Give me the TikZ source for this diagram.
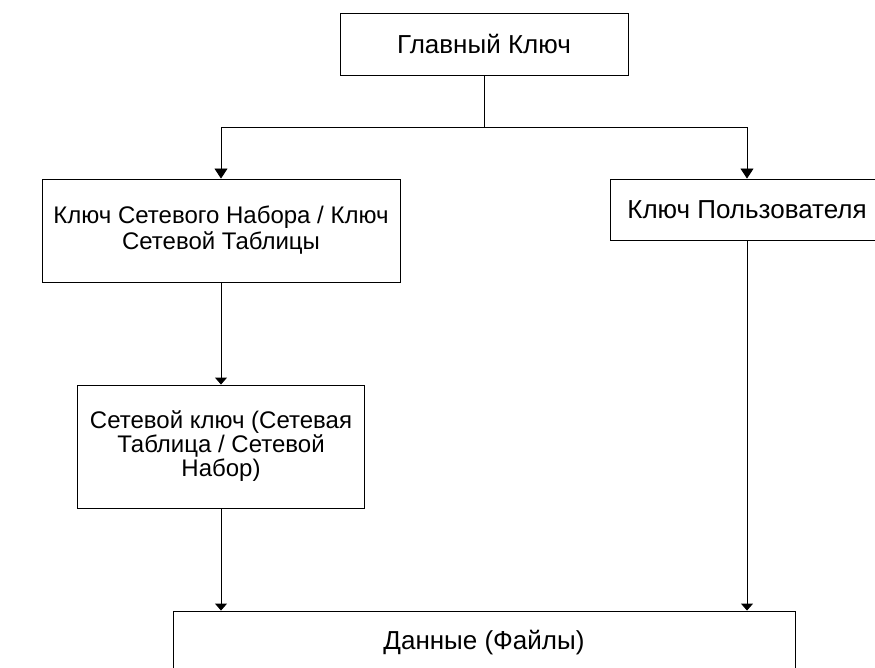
\documentclass[tikz,border=0pt]{standalone}
\usepackage{fontspec}
\setmainfont{Liberation Sans}
\usepackage{tikz}
\usetikzlibrary{
  arrows.meta,
  positioning
}

\begin{document}
\begin{tikzpicture}[
  x=1pt, y=-1pt,
  box/.style={rectangle, draw=black, line width=0.9pt, fill=white, inner sep=0pt, align=center, font=\fontsize{26}{27}\selectfont},
  multibox/.style={box, font=\fontsize{24}{#1}\selectfont},
  arr/.style={-{Triangle[length=10pt, width=13pt]}, line width=0.9pt},
  arrs/.style={-{Triangle[length=7pt, width=12pt]}, line width=0.9pt},
]
\path[use as bounding box, clip] (0,0) rectangle (875,668);

% Nodos
\node[box, minimum width=288pt, minimum height=62pt] (master) at (484,44) {Главный Ключ};
\node[multibox=26, minimum width=358pt, minimum height=103pt] (netsetkey) at (221,230.5) {Ключ Сетевого Набора / Ключ\\Сетевой Таблицы};
\node[box, minimum width=274pt, minimum height=61pt] (userkey) at (747,209.5) {Ключ Пользователя};
\node[multibox=24, minimum width=287pt, minimum height=123pt] (netkey) at (221,446.5) {Сетевой ключ (Сетевая\\Таблица / Сетевой\\Набор)};
\node[box, minimum width=622pt, minimum height=64pt] (data) at (484,643) {Данные (Файлы)};
\coordinate (fork) at (484,127);

% Flechas
\draw[line width=0.9pt] (master) -- (fork);
\draw[arr] (fork) -| (netsetkey);
\draw[arr] (fork) -| (userkey);
\draw[arrs] (netsetkey) -- (netkey);
\draw[arrs] (netkey) -- (netkey |- data.north);
\draw[arrs] (userkey) -- (userkey |- data.north);

\end{tikzpicture}
\end{document}
